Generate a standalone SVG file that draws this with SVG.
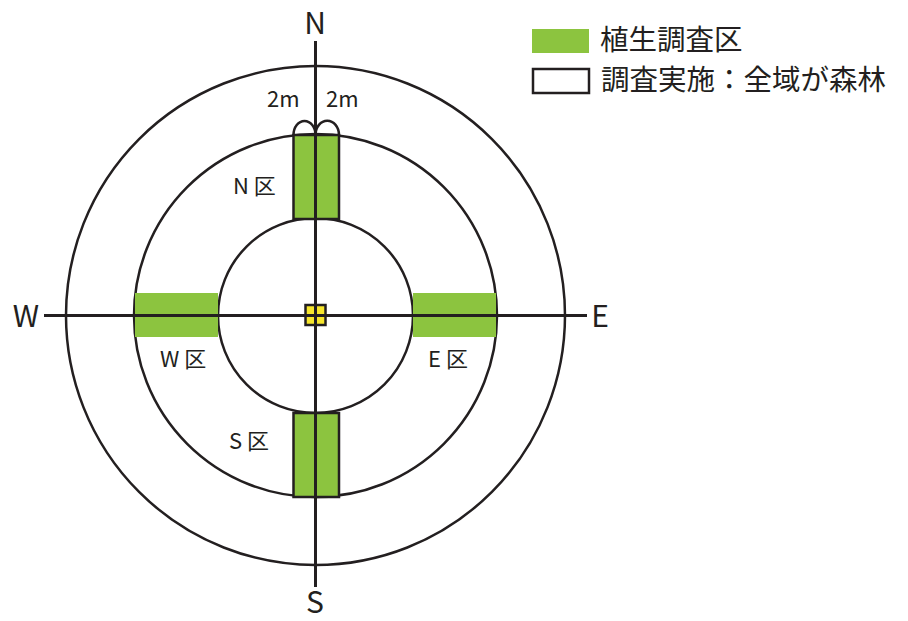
<svg xmlns="http://www.w3.org/2000/svg" width="908" height="621" viewBox="0 0 908 621">
<style>
.ring{fill:none;stroke:#231f20;stroke-width:2.5}
.plot{fill:#8cc43f}
.plotb{fill:#8cc43f;stroke:#231f20;stroke-width:2.5}
.axis{stroke:#231f20;stroke-width:3;fill:none}
text{font-family:"Noto Sans CJK JP","Noto Sans",sans-serif;fill:#231f20}
.dir{font-size:30px;text-anchor:middle}
.lab{font-size:22px}
.leg{font-size:28.5px}
</style>
<rect width="908" height="621" fill="#fff"/>
<g id="rings">
<circle class="ring" cx="315.5" cy="315.5" r="249.5"/>
<circle class="ring" cx="315.5" cy="315.5" r="181.5"/>
<circle class="ring" cx="315.5" cy="315.5" r="97.5"/>
</g>
<g id="plot-W"><rect class="plot" x="135" y="293" width="83" height="44"/><text class="lab" x="160" y="367">W 区</text></g>
<g id="plot-E"><rect class="plot" x="413" y="293" width="83" height="44"/><text class="lab" x="428" y="367">E 区</text></g>
<g id="plot-N"><rect class="plotb" x="293.5" y="135" width="45.5" height="84"/><text class="lab" x="233" y="194">N 区</text></g>
<g id="plot-S"><rect class="plotb" x="293.5" y="413" width="45.5" height="84"/><text class="lab" x="229" y="449">S 区</text></g>
<g id="center"><rect x="305.5" y="305" width="20" height="20" fill="#f7e62c" stroke="#231f20" stroke-width="2.5"/></g>
<g id="connectors">
<line class="axis" x1="315.5" y1="41" x2="315.5" y2="587"/>
<line class="axis" x1="44" y1="315.5" x2="587" y2="315.5"/>
<path class="ring" d="M293.5,135 A11,14 0 0 1 315.5,135 A11.5,14 0 0 1 339,135"/>
</g>
<g id="labels">
<text class="dir" x="315" y="34">N</text>
<text class="dir" x="315" y="613">S</text>
<text class="dir" x="26" y="327">W</text>
<text class="dir" x="600" y="327">E</text>
<text class="lab" x="267" y="107">2m</text>
<text class="lab" x="326" y="107">2m</text>
</g>
<g id="legend">
<rect class="plot" x="532" y="29" width="57" height="24"/>
<text class="leg" x="600" y="50">植生調査区</text>
<rect x="533" y="69" width="56" height="24" fill="#fff" stroke="#231f20" stroke-width="2.5"/>
<text class="leg" x="601" y="90">調査実施：全域が森林</text>
</g>
</svg>
